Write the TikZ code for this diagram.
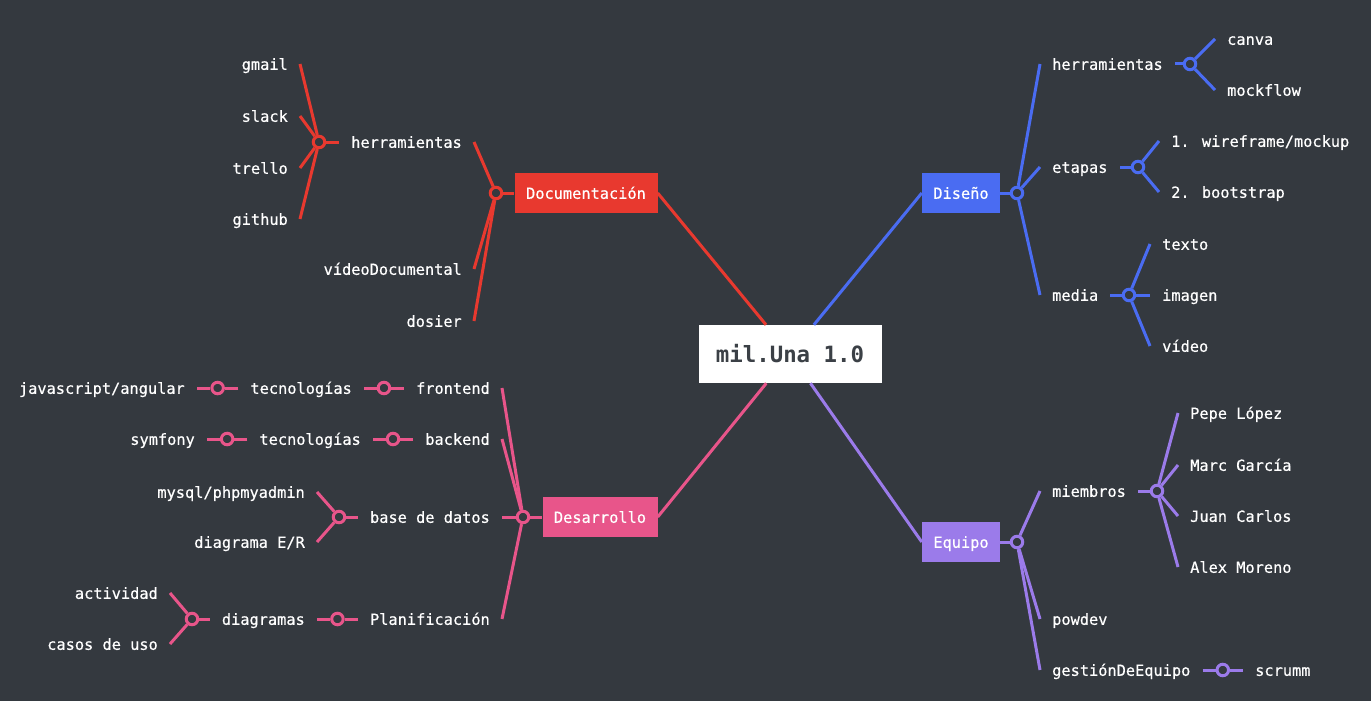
\documentclass[tikz,border=0pt]{standalone}
\usepackage{fontspec}
\usetikzlibrary{calc}
\newfontfamily\lblfam{DejaVu Sans Mono}[FakeBold=0.5]
\newfontfamily\rootfam{DejaVu Sans Mono Bold}
\definecolor{bg}{HTML}{34393F}
\definecolor{cred}{HTML}{E8392F}
\definecolor{cblue}{HTML}{4A6CF2}
\definecolor{cpink}{HTML}{E8558A}
\definecolor{cpurple}{HTML}{9B7BEA}
\definecolor{rootink}{HTML}{3B4046}
\newcommand\lblfont{\lblfam\fontsize{15.3}{18}\selectfont}
\newcommand\rootfont{\rootfam\fontsize{22.4}{26}\selectfont}
\tikzset{
  lbl/.style={font=\lblfont, text=white, inner sep=0pt, text height=11.6pt, text depth=0pt},
  hub/.style={circle, draw=#1, fill=bg, line width=3pt, minimum size=11.5pt, inner sep=0pt},
  topic/.style={fill=#1, text=white, font=\lblfont, minimum height=40pt, inner sep=0pt, text height=11.6pt, text depth=0pt},
  link/.style={draw=#1, line width=3pt},
}
\begin{document}
\begin{tikzpicture}[x=1pt,y=-1pt]
\useasboundingbox (0,0) rectangle (1371,701);
\fill[bg] (0,0) rectangle (1371,701);

% root
\node[fill=white, minimum width=183pt, minimum height=58pt, inner sep=0pt, font=\rootfont, text=rootink, text height=16pt, text depth=0pt] (root) at (790,354) {mil.Una 1.0};

% ---------- Documentacion (red)
\node[topic=cred, minimum width=143pt] (doc) at (586,193) {Documentación};
\node[hub=cred] (dh) at (496,193) {};
\node[lbl, anchor=east] (dherr) at (462,142) {herramientas};
\node[lbl, anchor=east] (dvid) at (462,269) {vídeoDocumental};
\node[lbl, anchor=east] (ddos) at (462,321) {dosier};
\node[hub=cred] (dherrh) at (319,142) {};
\node[lbl, anchor=east] (dgm) at (288,64) {gmail};
\node[lbl, anchor=east] (dsl) at (288,116) {slack};
\node[lbl, anchor=east] (dtr) at (288,168) {trello};
\node[lbl, anchor=east] (dgh) at (288,219) {github};
\draw[link=cred] (doc.east) -- (root);
\draw[link=cred] (dh) -- (doc);
\draw[link=cred] (dh) -- ([xshift=12pt]dherr.east);
\draw[link=cred] (dh) -- ([xshift=12pt]dvid.east);
\draw[link=cred] (dh) -- ([xshift=12pt]ddos.east);
\draw[link=cred] (dherrh) -- ([xshift=-12pt]dherr.west);
\draw[link=cred] (dherrh) -- ([xshift=12pt]dgm.east);
\draw[link=cred] (dherrh) -- ([xshift=12pt]dsl.east);
\draw[link=cred] (dherrh) -- ([xshift=12pt]dtr.east);
\draw[link=cred] (dherrh) -- ([xshift=12pt]dgh.east);

% ---------- Diseno (blue)
\node[topic=cblue, minimum width=78pt] (dis) at (961,193) {Diseño};
\node[hub=cblue] (bh) at (1017,193) {};
\node[lbl, anchor=west] (bherr) at (1052,64) {herramientas};
\node[lbl, anchor=west] (beta) at (1052,167) {etapas};
\node[lbl, anchor=west] (bmed) at (1052,295) {media};
\node[hub=cblue] (bherrh) at (1190,64) {};
\node[lbl, anchor=west] (bcan) at (1227,39) {canva};
\node[lbl, anchor=west] (bmoc) at (1227,90) {mockflow};
\node[hub=cblue] (betah) at (1138,167) {};
\node[lbl, anchor=west] (bwir) at (1171,141) {1. wireframe/mockup};
\node[lbl, anchor=west] (bboo) at (1171,192) {2. bootstrap};
\node[hub=cblue] (bmedh) at (1129,295) {};
\node[lbl, anchor=west] (btex) at (1162,244) {texto};
\node[lbl, anchor=west] (bima) at (1162,295) {imagen};
\node[lbl, anchor=west] (bvid) at (1162,346) {vídeo};
\draw[link=cblue] (dis.west) -- (root);
\draw[link=cblue] (bh) -- (dis);
\draw[link=cblue] (bh) -- ([xshift=-12pt]bherr.west);
\draw[link=cblue] (bh) -- ([xshift=-12pt]beta.west);
\draw[link=cblue] (bh) -- ([xshift=-12pt]bmed.west);
\draw[link=cblue] (bherrh) -- ([xshift=12pt]bherr.east);
\draw[link=cblue] (bherrh) -- ([xshift=-12pt]bcan.west);
\draw[link=cblue] (bherrh) -- ([xshift=-12pt]bmoc.west);
\draw[link=cblue] (betah) -- ([xshift=12pt]beta.east);
\draw[link=cblue] (betah) -- ([xshift=-12pt]bwir.west);
\draw[link=cblue] (betah) -- ([xshift=-12pt]bboo.west);
\draw[link=cblue] (bmedh) -- ([xshift=12pt]bmed.east);
\draw[link=cblue] (bmedh) -- ([xshift=-12pt]btex.west);
\draw[link=cblue] (bmedh) -- ([xshift=-12pt]bima.west);
\draw[link=cblue] (bmedh) -- ([xshift=-12pt]bvid.west);

% ---------- Equipo (purple)
\node[topic=cpurple, minimum width=78pt] (equ) at (961,542) {Equipo};
\node[hub=cpurple] (ph) at (1017,542) {};
\node[lbl, anchor=west] (pmie) at (1052,491) {miembros};
\node[lbl, anchor=west] (ppow) at (1052,619) {powdev};
\node[lbl, anchor=west] (pges) at (1052,670) {gestiónDeEquipo};
\node[hub=cpurple] (pmieh) at (1157,491) {};
\node[lbl, anchor=west] (ppep) at (1190,413) {Pepe López};
\node[lbl, anchor=west] (pmar) at (1190,465) {Marc García};
\node[lbl, anchor=west] (pjua) at (1190,516) {Juan Carlos};
\node[lbl, anchor=west] (pale) at (1190,567) {Alex Moreno};
\node[lbl, anchor=west] (pscr) at (1255,670) {scrumm};
\coordinate (pgesA) at ([xshift=12pt]pges.east);
\coordinate (pscrA) at ([xshift=-12pt]pscr.west);
\node[hub=cpurple] (pgesh) at ($(pgesA)!0.5!(pscrA)$) {};
\draw[link=cpurple] (equ.west) -- (root);
\draw[link=cpurple] (ph) -- (equ);
\draw[link=cpurple] (ph) -- ([xshift=-12pt]pmie.west);
\draw[link=cpurple] (ph) -- ([xshift=-12pt]ppow.west);
\draw[link=cpurple] (ph) -- ([xshift=-12pt]pges.west);
\draw[link=cpurple] (pmieh) -- ([xshift=12pt]pmie.east);
\draw[link=cpurple] (pmieh) -- ([xshift=-12pt]ppep.west);
\draw[link=cpurple] (pmieh) -- ([xshift=-12pt]pmar.west);
\draw[link=cpurple] (pmieh) -- ([xshift=-12pt]pjua.west);
\draw[link=cpurple] (pmieh) -- ([xshift=-12pt]pale.west);
\draw[link=cpurple] (pgesA) -- (pgesh) -- (pscrA);

% ---------- Desarrollo (pink)
\node[topic=cpink, minimum width=115pt] (dev) at (600,517) {Desarrollo};
\node[hub=cpink] (kh) at (523,517) {};
\node[lbl, anchor=east] (kfro) at (490,388) {frontend};
\node[lbl, anchor=east] (kbac) at (490,439) {backend};
\node[lbl, anchor=east] (kbdd) at (490,517) {base de datos};
\node[lbl, anchor=east] (kpla) at (490,619) {Planificación};
% frontend chain
\node[lbl, anchor=east] (ktec1) at (352,388) {tecnologías};
\node[lbl, anchor=east] (kjs) at (185,388) {javascript/angular};
\coordinate (kfroA) at ([xshift=-12pt]kfro.west);
\coordinate (ktec1A) at ([xshift=12pt]ktec1.east);
\node[hub=cpink] (kfroh) at ($(kfroA)!0.5!(ktec1A)$) {};
\coordinate (ktec1B) at ([xshift=-12pt]ktec1.west);
\coordinate (kjsA) at ([xshift=12pt]kjs.east);
\node[hub=cpink] (ktec1h) at ($(ktec1B)!0.5!(kjsA)$) {};
% backend chain
\node[lbl, anchor=east] (ktec2) at (361,439) {tecnologías};
\node[lbl, anchor=east] (ksym) at (195,439) {symfony};
\coordinate (kbacA) at ([xshift=-12pt]kbac.west);
\coordinate (ktec2A) at ([xshift=12pt]ktec2.east);
\node[hub=cpink] (kbach) at ($(kbacA)!0.5!(ktec2A)$) {};
\coordinate (ktec2B) at ([xshift=-12pt]ktec2.west);
\coordinate (ksymA) at ([xshift=12pt]ksym.east);
\node[hub=cpink] (ktec2h) at ($(ktec2B)!0.5!(ksymA)$) {};
% base de datos
\node[hub=cpink] (kbddh) at (339,517) {};
\node[lbl, anchor=east] (kmys) at (305,492) {mysql/phpmyadmin};
\node[lbl, anchor=east] (kder) at (305,542) {diagrama E/R};
% planificacion chain
\node[lbl, anchor=east] (kdia) at (305,619) {diagramas};
\coordinate (kplaA) at ([xshift=-12pt]kpla.west);
\coordinate (kdiaA) at ([xshift=12pt]kdia.east);
\node[hub=cpink] (kplah) at ($(kplaA)!0.5!(kdiaA)$) {};
\node[hub=cpink] (kdiah) at (192,619) {};
\node[lbl, anchor=east] (kact) at (158,593) {actividad};
\node[lbl, anchor=east] (kcas) at (158,644) {casos de uso};

\draw[link=cpink] (dev.east) -- (root);
\draw[link=cpink] (kh) -- (dev);
\draw[link=cpink] (kh) -- ([xshift=12pt]kfro.east);
\draw[link=cpink] (kh) -- ([xshift=12pt]kbac.east);
\draw[link=cpink] (kh) -- ([xshift=12pt]kbdd.east);
\draw[link=cpink] (kh) -- ([xshift=12pt]kpla.east);
\draw[link=cpink] (kfroA) -- (kfroh) -- (ktec1A);
\draw[link=cpink] (ktec1B) -- (ktec1h) -- (kjsA);
\draw[link=cpink] (kbacA) -- (kbach) -- (ktec2A);
\draw[link=cpink] (ktec2B) -- (ktec2h) -- (ksymA);
\draw[link=cpink] (kbddh) -- ([xshift=-12pt]kbdd.west);
\draw[link=cpink] (kbddh) -- ([xshift=12pt]kmys.east);
\draw[link=cpink] (kbddh) -- ([xshift=12pt]kder.east);
\draw[link=cpink] (kplaA) -- (kplah) -- (kdiaA);
\draw[link=cpink] (kdiah) -- ([xshift=-12pt]kdia.west);
\draw[link=cpink] (kdiah) -- ([xshift=12pt]kact.east);
\draw[link=cpink] (kdiah) -- ([xshift=12pt]kcas.east);
\end{tikzpicture}
\end{document}
